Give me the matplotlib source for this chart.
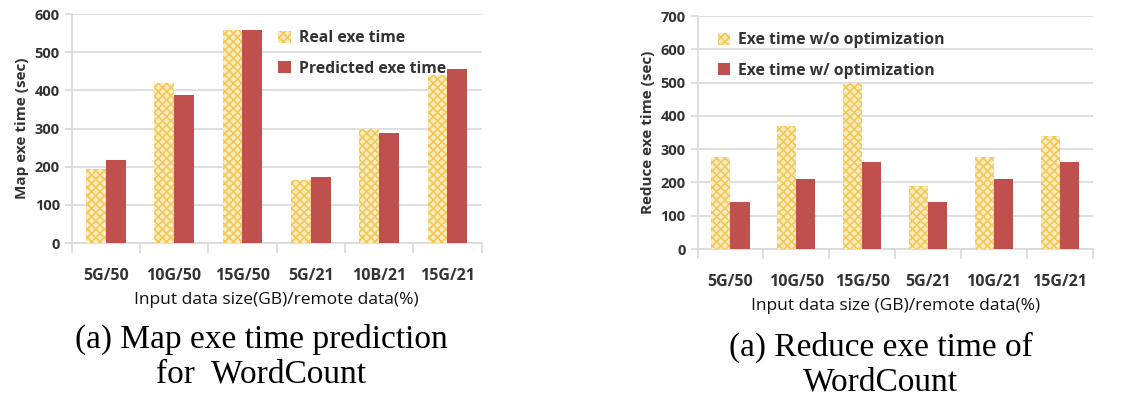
import numpy as np
import matplotlib
matplotlib.use("Agg")
import matplotlib.pyplot as plt

plt.rcParams['hatch.linewidth'] = 1.2

# data
map_cats = ["5G/50", "10G/50", "15G/50", "5G/21", "10B/21", "15G/21"]
map_real = [195, 420, 557, 165, 298, 440]
map_pred = [217, 387, 557, 173, 287, 455]

red_cats = ["5G/50", "10G/50", "15G/50", "5G/21", "10G/21", "15G/21"]
red_noopt = [275, 370, 500, 190, 275, 340]
red_opt = [140, 210, 260, 140, 210, 260]

YELLOW_FACE = '#fbecc0'
YELLOW_HATCH = '#f3c85a'
RED = '#c0504d'
GRID = '#d9d9d9'
SANS = 'Open Sans'
SERIF = 'Liberation Serif'


def bar_panel(ax, cats, s1, s2, lab1, lab2, ymax, ylabel, xlabel, legend_anchor):
    x = np.arange(len(cats))
    w = 0.29
    ax.bar(x - w / 2, s1, w, facecolor=YELLOW_FACE, edgecolor=YELLOW_HATCH,
           hatch='xxxx', linewidth=0, label=lab1, zorder=3)
    ax.bar(x + w / 2, s2, w, color=RED, linewidth=0, label=lab2, zorder=3)
    ax.set_xlim(-0.5, len(cats) - 0.5)
    ax.set_ylim(0, ymax)
    ax.set_yticks(np.arange(0, ymax + 1, 100))
    ax.yaxis.grid(True, color=GRID, linewidth=1.2, zorder=0)
    ax.set_axisbelow(True)
    for s in ['top', 'right']:
        ax.spines[s].set_visible(False)
    ax.spines['left'].set_color(GRID)
    ax.spines['bottom'].set_color(GRID)
    ax.spines['left'].set_linewidth(1.2)
    ax.spines['bottom'].set_linewidth(1.2)
    # category boundary ticks below the axis, labels centred under groups
    ax.set_xticks(np.arange(len(cats) + 1) - 0.5)
    ax.set_xticklabels([])
    ax.set_xticks(x, minor=True)
    ax.set_xticklabels(cats, minor=True, fontsize=11.5, fontweight='bold',
                       family=SANS, color='#333333')
    ax.tick_params(axis='x', which='major', length=7, color=GRID, width=1.2)
    ax.tick_params(axis='x', which='minor', length=0, pad=18)
    ax.tick_params(axis='y', length=5, color=GRID, width=1.2, labelsize=10.5,
                   labelcolor='#333333')
    for t in ax.get_yticklabels():
        t.set_fontweight('bold')
        t.set_family(SANS)
    ax.set_ylabel(ylabel, fontsize=11, fontweight='bold', family=SANS,
                  color='#333333', labelpad=4)
    ax.set_xlabel(xlabel, fontsize=12.5, family=SANS, color='#111111', labelpad=6)
    ax.legend(loc='upper left', bbox_to_anchor=legend_anchor, frameon=False,
              prop={'family': SANS, 'weight': 'bold', 'size': 11.3},
              handlelength=0.8, handleheight=0.8, handletextpad=0.5,
              labelspacing=0.9, labelcolor='#333333')


fig = plt.figure(figsize=(11.36, 4.01), dpi=100)
ax1 = fig.add_axes([0.063, 0.394, 0.361, 0.571])
ax2 = fig.add_axes([0.614, 0.379, 0.348, 0.581])

bar_panel(ax1, map_cats, map_real, map_pred, "Real exe time", "Predicted exe time",
          600, "Map exe time (sec)", "Input data size(GB)/remote data(%)", (0.47, 0.99))
bar_panel(ax2, red_cats, red_noopt, red_opt, "Exe time w/o optimization",
          "Exe time w/ optimization", 700, "Reduce exe time (sec)",
          "Input data size (GB)/remote data(%)", (0.015, 0.99))

fig.text(0.23, 0.11, "(a) Map exe time prediction\nfor  WordCount", ha='center',
         va='center', fontsize=24, family=SERIF, linespacing=1.15)
fig.text(0.775, 0.091, "(a) Reduce exe time of\nWordCount", ha='center',
         va='center', fontsize=24, family=SERIF, linespacing=1.15)

fig.savefig("out.png", dpi=100)
